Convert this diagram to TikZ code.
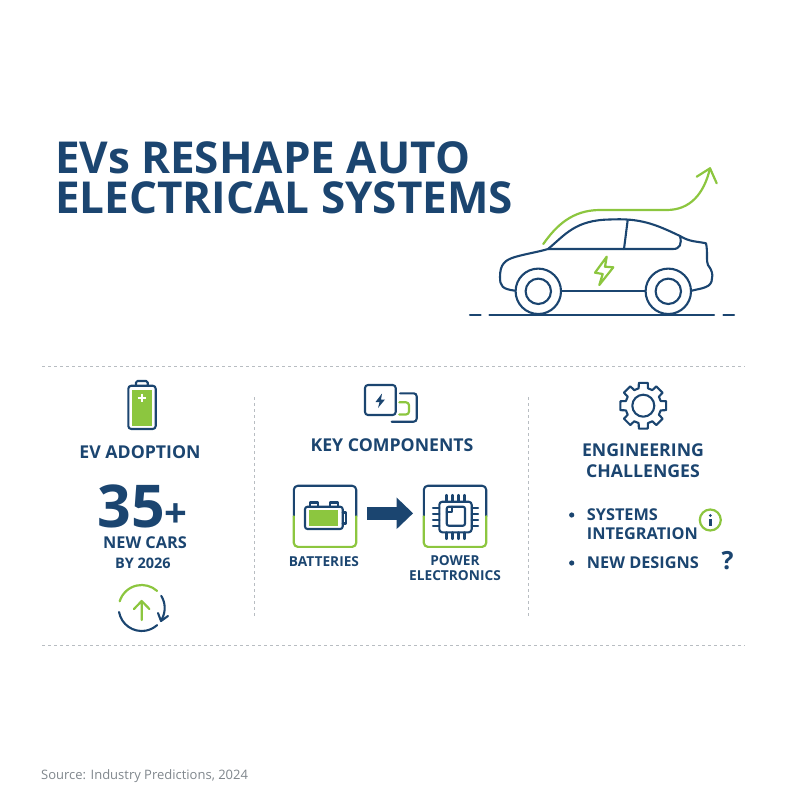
\documentclass[tikz,border=0pt]{standalone}
\usepackage{fontspec}
\setmainfont{Open Sans}
\usetikzlibrary{arrows.meta, positioning, calc}
\definecolor{navy}{HTML}{1B4570}
\definecolor{leaf}{HTML}{8CC63F}
\definecolor{rulegray}{HTML}{B8BDC2}
\definecolor{srcgray}{HTML}{7F868C}
\newcommand{\fsz}[1]{\fontsize{#1}{#1}\selectfont}
\begin{document}
\begin{tikzpicture}[
      x=1pt, y=-1pt,
      title/.style={anchor=west, inner sep=0pt, text=navy, font=\fsz{44}\bfseries},
      heading/.style={inner sep=0pt, text=navy, font=\fsz{17.7}\bfseries},
      label/.style={inner sep=0pt, text=navy, font=\fsz{16.3}\bfseries},
      small/.style={inner sep=0pt, text=navy, font=\fsz{13.7}\bfseries},
      icon/.style={draw=navy, line width=2.1pt, line join=round, line cap=round},
      green/.style={draw=leaf, line width=2.2pt, line join=round, line cap=round},
      divider/.style={draw=rulegray, line width=0.7pt, dashed},
      iconbox/.style={minimum width=62pt, minimum height=60.7pt, inner sep=0pt}
    ]
      \useasboundingbox (0,0) rectangle (800,800);

      % Title
      \node[title] (title_a) at (55,158) {EVs RESHAPE AUTO};
      \node[title] (title_b) at (55,198) {ELECTRICAL SYSTEMS};

      % Green growth arrow over the car
      \draw[green] (543.3,244) .. controls (556,226) and (572,210) .. (600,210)
        -- (666.7,210) .. controls (690,210) and (704,194) .. (710,168.3);
      \draw[green] (696.7,176.7) -- (710,168.3) -- (716.7,183.3);

      % Car body
      \draw[icon] (515,290.7) .. controls (502,289) and (500,286) .. (500,277)
        .. controls (500,264) and (505,260) .. (515,257)
        .. controls (525,254) and (538,252) .. (548,249)
        .. controls (565,235) and (575,220) .. (610,219.5)
        .. controls (640,218) and (655,224) .. (680,236)
        .. controls (690,242) and (695,241) .. (706,243.3)
        .. controls (708,252) and (706,262) .. (708,265)
        .. controls (712,270) and (713,275) .. (712,278)
        .. controls (712,288) and (702,288) .. (691.7,290.7);
      \draw[icon] (548,249) -- (673,249) .. controls (680,249) and (682,244) .. (680,236);
      \draw[icon] (627.7,220) -- (624,249);
      \draw[icon] (561.7,291.3) -- (645,291.3);
      \foreach \cx in {538.3,668.3} {
        \draw[icon, fill=white] (\cx,291.3) circle[radius=22.7];
        \draw[icon] (\cx,291.3) circle[radius=12.7];
      }
      \draw[green] (606.7,256.7) -- (595,272.7) -- (602.7,274) -- (599.3,285)
        -- (613.3,267.3) -- (605,266.7) -- cycle;

      % Road
      \draw[icon] (489.3,315.3) -- (714,315.3);
      \draw[icon] (470,315.3) -- (480.7,315.3);
      \draw[icon] (723.3,315.3) -- (734,315.3);

      % Dashed dividers
      \draw[divider] (42,366) -- (745,366);
      \draw[divider] (42,645) -- (745,645);
      \draw[divider] (254,397) -- (254,617);
      \draw[divider] (528,397) -- (528,617);

      % EV adoption column
      \fill[leaf] (131.7,390) rectangle (152.3,425.7);
      \draw[icon, rounded corners=3pt] (128.3,385.7) rectangle (155.7,429);
      \draw[icon, rounded corners=1.5pt] (136,385.7) -- (136,381) -- (147.7,381) -- (147.7,385.7);
      \draw[white, line width=2pt] (137.7,397.7) -- (145.7,397.7) (141.7,393.7) -- (141.7,401.7);
      \node[heading] (adopt_head) at (140,452) {EV ADOPTION};
      \node[anchor=south, inner sep=0pt, text height=42pt, text depth=0pt, text=navy, font=\fsz{59}\bfseries] (adopt_num) at (142.5,528) {35{\fsz{40}+}};
      \node[label] (adopt_cars) at (145,543) {NEW CARS};
      \node[small, font=\fsz{14.5}\bfseries] (adopt_year) at (143,563) {BY 2026};
      \draw[green] (141.7,608) ++(-163:23) arc[start angle=-163, end angle=-48, radius=23];
      \draw[icon] (141.7,608) ++(-190:23) arc[start angle=-190, end angle=-312, radius=23];
      \draw[icon] (141.7,608) ++(-32:23) arc[start angle=-32, end angle=28, radius=23];
      \draw[icon] (158,613) -- (161,621) -- (168,616);
      \draw[green] (141.7,620) -- (141.7,602) (134,609) -- (141.7,601) -- (149.4,609);

      % Key components column
      \draw[icon, rounded corners=3pt] (365,385) rectangle (395.7,415);
      \fill[navy] (382,393.5) -- (375.5,402) -- (379.5,402) -- (378,408) -- (385,399.5) -- (381,399.5) -- cycle;
      \draw[icon, rounded corners=3pt] (400,393.3) -- (416.7,393.3) -- (416.7,421.7) -- (391.7,421.7);
      \draw[green, rounded corners=3pt] (399.3,402.3) -- (409,402.3) -- (409,414.5) -- (399.3,414.5);
      \node[heading] (key_head) at (392,445) {KEY COMPONENTS};

      % Boxes with two coloured halves
      \node[iconbox] (batt_box) at (325,516.3) {};
      \node[iconbox] (chip_box) at (455,516.3) {};
      \foreach \b in {batt_box,chip_box} {
        \draw[icon, rounded corners=4pt] (\b.west) -- (\b.north west) -- (\b.north east) -- (\b.east);
        \draw[green, rounded corners=4pt] (\b.west) -- (\b.south west) -- (\b.south east) -- (\b.east);
      }
      \draw[navy, line width=12.4pt, shorten <=10.7pt, shorten >=10.7pt, -{Triangle[length=16.6pt, width=30.7pt]}]
        ([yshift=3pt]batt_box.east) -- ([yshift=3pt]chip_box.west);

      % Small battery
      \fill[leaf] (309.3,510) rectangle (338.3,525.7);
      \draw[icon, rounded corners=2.5pt] (305,506.7) rectangle (342.7,529);
      \draw[icon] (310,506.7) -- (310,502.5) -- (318.3,502.5) -- (318.3,506.7);
      \draw[icon] (330,506.7) -- (330,502.5) -- (338.3,502.5) -- (338.3,506.7);
      \draw[icon] (342.7,512.5) -- (346,512.5) -- (346,523.5) -- (342.7,523.5);

      % Chip
      \draw[icon, rounded corners=3pt] (439.3,501.7) rectangle (471.7,532.3);
      \draw[icon, rounded corners=2pt] (446.7,506.7) rectangle (465,525.7);
      \draw[icon] (446.7,512) -- (452,512) -- (452,506.7);
      \foreach \p in {-9,-3,3,9} {
        \draw[icon] (455.5+\p,495) -- (455.5+\p,501.7);
        \draw[icon] (455.5+\p,532.3) -- (455.5+\p,539);
        \draw[icon] (433,517+\p) -- (439.3,517+\p);
        \draw[icon] (471.7,517+\p) -- (478,517+\p);
      }
      \node[small] (batt_label) at (324,562) {BATTERIES};
      \node[small] (chip_label_a) at (455,561) {POWER};
      \node[small] (chip_label_b) at (455,576) {ELECTRONICS};

      % Engineering challenges column
      \draw[icon] (643.3,405.7) circle[radius=11];
      \draw[icon] ($(643.3,405.7)+(-11:23.3)$)
        \foreach \a in {0,45,...,315} {
          -- ($(643.3,405.7)+(\a-11:23.3)$) -- ($(643.3,405.7)+(\a+11:23.3)$)
          -- ($(643.3,405.7)+(\a+15:18)$) -- ($(643.3,405.7)+(\a+30:18)$)
        } -- cycle;
      \node[heading] (eng_head_a) at (643,450) {ENGINEERING};
      \node[heading] (eng_head_b) at (643,471) {CHALLENGES};
      \fill[navy] (571.7,515) circle[radius=2.6];
      \fill[navy] (571.7,563) circle[radius=2.6];
      \node[label, anchor=west] (item_a) at (586.7,515) {SYSTEMS};
      \node[label, anchor=west] (item_b) at (586.7,534) {INTEGRATION};
      \node[label, anchor=west] (item_c) at (586.7,563) {NEW DESIGNS};
      \draw[green] (710.3,520) circle[radius=10.5];
      \fill[navy] (710.3,515.5) circle[radius=1.5];
      \fill[navy] (709,519) rectangle (711.6,525.5);
      \node[inner sep=0pt, text=navy, font=\fsz{25}\bfseries] (item_q) at (727.7,560.5) {?};

      % Source line
      \node[anchor=west, inner sep=0pt, text=srcgray, font=\fsz{13}] (source) at (41,776) {Source: Industry Predictions, 2024};
    \end{tikzpicture}
\end{document}
